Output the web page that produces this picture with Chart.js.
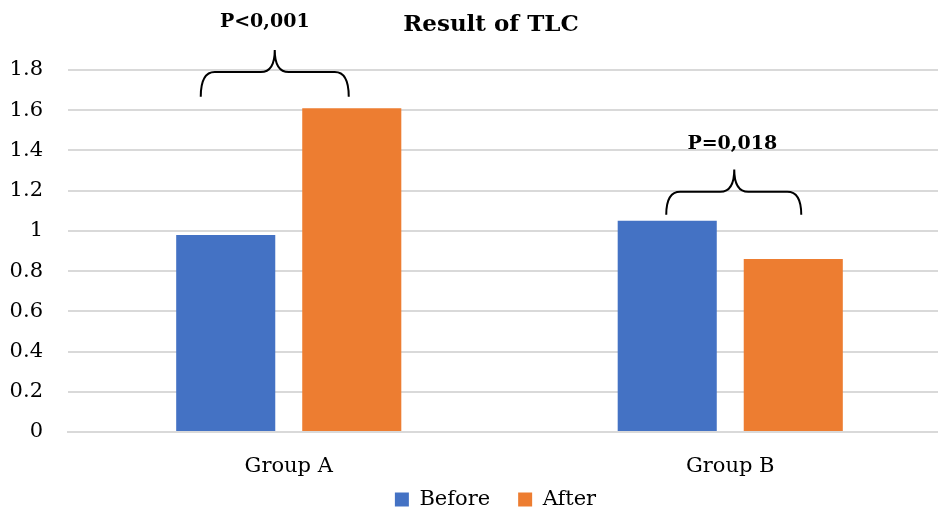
<!DOCTYPE html>
<html>
<head>
<meta charset="utf-8">
<script src="https://cdn.jsdelivr.net/npm/chart.js@4/dist/chart.umd.min.js"></script>
<style>
  html, body { margin: 0; padding: 0; background: #fff; overflow: hidden; }
  #wrap { width: 980px; height: 513px; }
</style>
</head>
<body>
<div id="wrap"><canvas id="tlc"></canvas></div>
<script>
  const categories = ['Group A', 'Group B'];
  const beforeValues = [0.98, 1.05];
  const afterValues = [1.61, 0.86];
  const seriesNames = ['Before', 'After'];
  const pLabels = ['P<0,001', 'P=0,018'];

  const FONT = "'DejaVu Serif', serif";

  /* brace + p-value label over each group (pixel offsets from group centre, levels in data units) */
  const braces = [
    { cat: 0, left: -88, right: 60, tip: -14, textDx: -24, end: 1.667, bar: 1.79, top: 1.90, text: 2.04 },
    { cat: 1, left: -64, right: 71, tip: 4, textDx: 2, end: 1.08, bar: 1.194, top: 1.305, text: 1.43 }
  ];

  function drawBrace(ctx, x1, x2, xm, yEnd, yBar, yTop) {
    const r = 14;
    ctx.beginPath();
    ctx.moveTo(x1, yEnd);
    ctx.quadraticCurveTo(x1, yBar, x1 + r, yBar);
    ctx.lineTo(xm - r, yBar);
    ctx.quadraticCurveTo(xm, yBar, xm, yTop);
    ctx.quadraticCurveTo(xm, yBar, xm + r, yBar);
    ctx.lineTo(x2 - r, yBar);
    ctx.quadraticCurveTo(x2, yBar, x2, yEnd);
    ctx.stroke();
  }

  const notes = {
    id: 'notes',
    afterLayout(chart) {
      // nudge the legend so it sits like the original
      chart.legend.left += 20;
      chart.legend.right += 20;
      chart.legend.top += 5;
      chart.legend.bottom += 5;
    },
    afterDraw(chart) {
      const { ctx, scales: { x, y } } = chart;
      ctx.save();
      ctx.fillStyle = '#000';
      ctx.textAlign = 'center';
      ctx.textBaseline = 'middle';
      ctx.font = "bold 23px " + FONT;
      ctx.fillText('Result of TLC', 491, 25);

      ctx.strokeStyle = '#000';
      ctx.lineWidth = 2;
      braces.forEach((b, i) => {
        const cx = x.getPixelForValue(b.cat);
        drawBrace(ctx, cx + b.left, cx + b.right, cx + b.tip,
          y.getPixelForValue(b.end), y.getPixelForValue(b.bar), y.getPixelForValue(b.top));
        ctx.font = "bold 19px " + FONT;
        ctx.fillText(pLabels[i], cx + b.textDx, y.getPixelForValue(b.text));
      });
      ctx.restore();
    }
  };

  new Chart(document.getElementById('tlc'), {
    type: 'bar',
    data: {
      labels: categories,
      datasets: [
        { label: seriesNames[0], data: beforeValues, backgroundColor: '#4472C4' },
        { label: seriesNames[1], data: afterValues, backgroundColor: '#ED7D31' }
      ]
    },
    options: {
      responsive: true,
      maintainAspectRatio: false,
      animation: false,
      categoryPercentage: 0.571,
      barPercentage: 0.786,
      layout: { padding: { top: 70, right: 29, left: 0, bottom: -2 } },
      plugins: {
        legend: {
          position: 'bottom',
          labels: {
            font: { size: 21, family: FONT },
            color: '#000',
            boxWidth: 14,
            boxHeight: 14,
            padding: 8,
            // wider gap between the two legend entries
            generateLabels: chart => Chart.defaults.plugins.legend.labels.generateLabels(chart)
              .map((it, i) => Object.assign(it, { text: i === 0 ? it.text + '   ' : it.text }))
          }
        },
        tooltip: { enabled: false }
      },
      scales: {
        y: {
          min: 0,
          max: 1.8,
          ticks: {
            stepSize: 0.2,
            padding: 25,
            color: '#000',
            font: { size: 21, family: FONT },
            callback: v => String(Number(v.toFixed(1)))
          },
          grid: { color: '#D9D9D9', lineWidth: 2, drawTicks: false },
          border: { display: false },
          afterFit: s => { s.width = 68; }
        },
        x: {
          ticks: { color: '#000', padding: 22, font: { size: 21, family: FONT } },
          grid: { display: false, drawTicks: false },
          border: { color: '#D9D9D9', width: 2 },
          afterFit: s => { s.height = 44; }
        }
      }
    },
    plugins: [notes]
  });
</script>
</body>
</html>
